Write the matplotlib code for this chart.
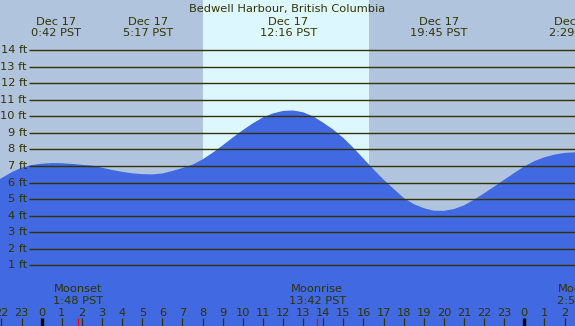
import numpy as np
import matplotlib
matplotlib.use("Agg")
import matplotlib.pyplot as plt
import matplotlib.transforms as mtransforms

hours = np.arange(-2.5, 27.5, 0.5)
heights = [5.95, 6.27, 6.62, 6.90, 7.06, 7.14, 7.18, 7.17, 7.13, 7.07,
           7.02, 6.90, 6.76, 6.65, 6.56, 6.51, 6.49, 6.55, 6.70, 6.88,
           7.08, 7.40, 7.80, 8.25, 8.72, 9.17, 9.58, 9.94, 10.18, 10.33,
           10.36, 10.25, 10.00, 9.62, 9.20, 8.70, 8.10, 7.45, 6.80, 6.18,
           5.62, 5.07, 4.70, 4.45, 4.30, 4.29, 4.40, 4.62, 4.96, 5.35,
           5.76, 6.17, 6.58, 6.98, 7.30, 7.53, 7.69, 7.79, 7.83, 7.80]

# high / low tide labels
tide_times = [0.70, 5.283, 12.267, 19.75, 26.483]
tide_dates = ["Dec 17", "Dec 17", "Dec 17", "Dec 17", "Dec 18"]
tide_labels = ["0:42 PST", "5:17 PST", "12:16 PST", "19:45 PST", "2:29 PST"]

# moon events
moon_times = [1.80, 13.70, 26.87]
moon_names = ["Moonset", "Moonrise", "Moonset"]
moon_labels = ["1:48 PST", "13:42 PST", "2:52 PST"]

sunrise, sunset = 8.02, 16.28
ft_levels = list(range(1, 15))
tick_hours = list(range(-2, 27))

night = "#b0c4de"
day = "#ddf7fe"
water = "#4169e1"
ink = "#333300"

W, H = 575, 326
px_hr = 20.11
x0 = 41.7          # pixel of hour 0
y0 = 281.8         # pixel of 0 ft
px_ft = 16.54

fig = plt.figure(figsize=(W / 100, H / 100), dpi=100)
fig.patch.set_facecolor(night)
ax = fig.add_axes([0, 0, 1, 1])
ax.set_facecolor(night)
ax.set_xlim(-x0 / px_hr, (W - x0) / px_hr)
ax.set_ylim((y0 - H) / px_ft, y0 / px_ft)
ax.axis("off")

def yfrac(py):
    return 1 - py / H

trans = mtransforms.blended_transform_factory(ax.transData, ax.transAxes)

ax.axvspan(sunrise, sunset, color=day, lw=0, zorder=0)
ax.fill_between(hours, ax.get_ylim()[0], heights, color=water, lw=0, zorder=1)

fs = 8.2
gx0 = (29 - x0) / px_hr
for lv in ft_levels:
    ax.plot([gx0, ax.get_xlim()[1]], [lv, lv], color=ink, lw=1.0, zorder=2,
            solid_capstyle="butt")
    ax.text((27 - x0) / px_hr, lv - 3 / px_ft, f"{lv} ft", ha="right",
            va="baseline", fontsize=fs, color=ink, zorder=3)

fig.text(0.5, yfrac(12), "Bedwell Harbour, British Columbia", ha="center",
         va="baseline", fontsize=fs, color=ink)

for t, d, lab in zip(tide_times, tide_dates, tide_labels):
    ax.text(t, yfrac(25), d, transform=trans, ha="center", va="baseline",
            fontsize=fs, color=ink, clip_on=False)
    ax.text(t, yfrac(36), lab, transform=trans, ha="center", va="baseline",
            fontsize=fs, color=ink, clip_on=False)

for t, n, lab in zip(moon_times, moon_names, moon_labels):
    ax.text(t, yfrac(291.7), n, transform=trans, ha="center", va="baseline",
            fontsize=fs, color=ink)
    ax.text(t, yfrac(304.3), lab, transform=trans, ha="center", va="baseline",
            fontsize=fs, color=ink)
    ax.plot([t, t], [0, yfrac(318)], transform=trans, color="red", lw=0.9,
            zorder=4, solid_capstyle="butt")

for h in tick_hours:
    midnight = h % 24 == 0
    ax.plot([h, h], [0, yfrac(318)], transform=trans,
            color="black" if midnight else ink, lw=2.4 if midnight else 0.9,
            zorder=4, solid_capstyle="butt")
    ax.text(h, yfrac(316), str(h % 24), transform=trans, ha="center",
            va="baseline", fontsize=fs, color=ink)

fig.savefig("out.png", dpi=100, facecolor=night)
